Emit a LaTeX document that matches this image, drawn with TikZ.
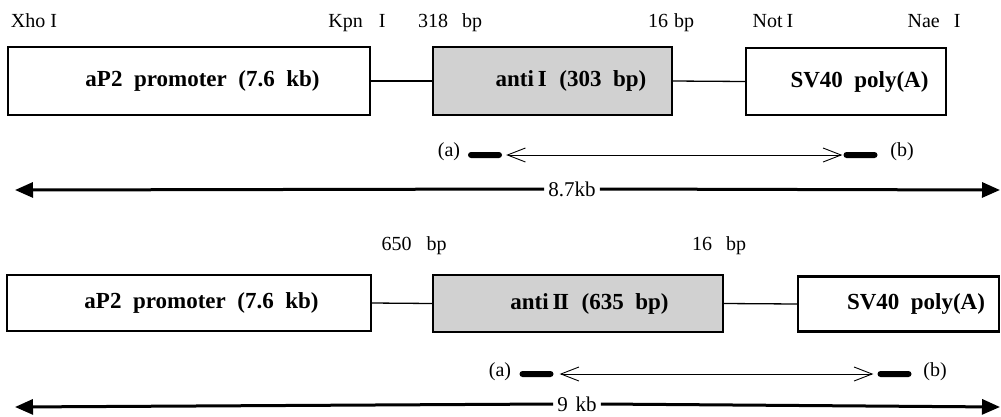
\documentclass[tikz,border=0pt]{standalone}
\usepackage{fontspec}
\setmainfont{Liberation Serif}
\usetikzlibrary{arrows.meta}

\begin{document}
\begin{tikzpicture}[x=1pt,y=-1pt,
  box/.style={draw, line width=2.2pt, inner sep=0pt, align=center,
    font=\fontsize{23}{26}\selectfont\bfseries},
  graybox/.style={box, fill=black!18},
  site/.style={anchor=base, inner sep=0pt, font=\fontsize{20}{22}\selectfont},
  link/.style={line width=1.3pt},
  primer/.style={fill=black, rounded corners=3pt, minimum width=34pt,
    minimum height=6pt, inner sep=0pt},
  span/.style={line width=0.9pt,
    {Straight Barb[length=18pt,width=14pt]}-{Straight Barb[length=18pt,width=14pt]}},
  total/.style={line width=3pt, -{Triangle[length=18pt,width=15pt]}},
  kb/.style={inner xsep=4pt, inner ysep=0pt, font=\fontsize{21}{23}\selectfont},
]
\useasboundingbox (0,0) rectangle (1001,416);

% ---------- construct with anti I ----------
\node[site] (xho) at (34,27) {Xho\hspace{5pt}I};
\node[site] (kpn) at (357,27) {Kpn\hspace{16pt}I};
\node[site] (n318) at (450,27) {318\hspace{14pt}bp};
\node[site] (n16a) at (671,27) {16\hspace{6pt}bp};
\node[site] (notI) at (773,27) {Not\hspace{4pt}I};
\node[site] (naeI) at (934,27) {Nae\hspace{14pt}I};

\node[box, minimum width=362pt, minimum height=68pt] (p1) at (189,81)
  {\hspace*{27pt}aP2\hspace{0.5em}promoter\hspace{0.5em}(7.6\hspace{0.5em}kb)};
\node[graybox, minimum width=239pt, minimum height=68pt] (g1) at (552.5,81)
  {\hspace*{37pt}anti\,I\hspace{0.55em}(303\hspace{0.5em}bp)};
\node[box, minimum width=200pt, minimum height=67pt] (s1) at (846,81.5)
  {\hspace*{27pt}SV40\hspace{0.5em}poly(A)};
\draw[link] (p1.east) -- (g1.west);
\draw[link] (g1.east) -- (s1.west);

\node[site] (la1) at (449,156) {(a)};
\node[primer] (a1) at (485,155) {};
\node[primer] (b1) at (860.5,155) {};
\node[site] (lb1) at (902,156) {(b)};
\path (a1.east) ++(4pt,0) coordinate (a1e) (b1.west) ++(-1pt,0) coordinate (b1w);
\draw[span] (a1e) -- (b1w);

\coordinate (L1) at (15,190);
\coordinate (R1) at (1000,190);
\node[kb] (k1) at (572,189) {8.7kb};
\draw[total] (k1.west) -- (L1);
\draw[total] (k1.east) -- (R1);

% ---------- construct with anti II ----------
\node[site] (n650) at (414,250) {650\hspace{15pt}bp};
\node[site] (n16b) at (719,250) {16\hspace{14pt}bp};

\node[box, minimum width=364pt, minimum height=56pt] (p2) at (189,303)
  {\hspace*{25pt}aP2\hspace{0.5em}promoter\hspace{0.5em}(7.6\hspace{0.5em}kb)};
\node[graybox, minimum width=290pt, minimum height=57pt] (g2) at (578,303.5)
  {\hspace*{23pt}anti\,I\kern-1.5ptI\hspace{0.55em}(635\hspace{0.5em}bp)};
\node[box, minimum width=201pt, minimum height=55pt] (s2) at (898.5,304)
  {\hspace*{35pt}SV40\hspace{0.5em}poly(A)};
\draw[link] (p2.east) -- (g2.west);
\draw[link] (g2.east) -- (s2.west);

\node[site] (la2) at (500,376.5) {(a)};
\node[primer] (a2) at (536.5,374) {};
\node[primer] (b2) at (894.5,374) {};
\node[site] (lb2) at (935,376.5) {(b)};
\path (a2.east) ++(6pt,0) coordinate (a2e) (b2.west) ++(-4pt,0) coordinate (b2w);
\draw[span] (a2e) -- (b2w);

\coordinate (L2) at (15,407);
\coordinate (R2) at (1000,407);
\node[kb] (k2) at (577,404) {9\hspace{8pt}kb};
\draw[total] (k2.west) -- (L2);
\draw[total] (k2.east) -- (R2);
\end{tikzpicture}
\end{document}
